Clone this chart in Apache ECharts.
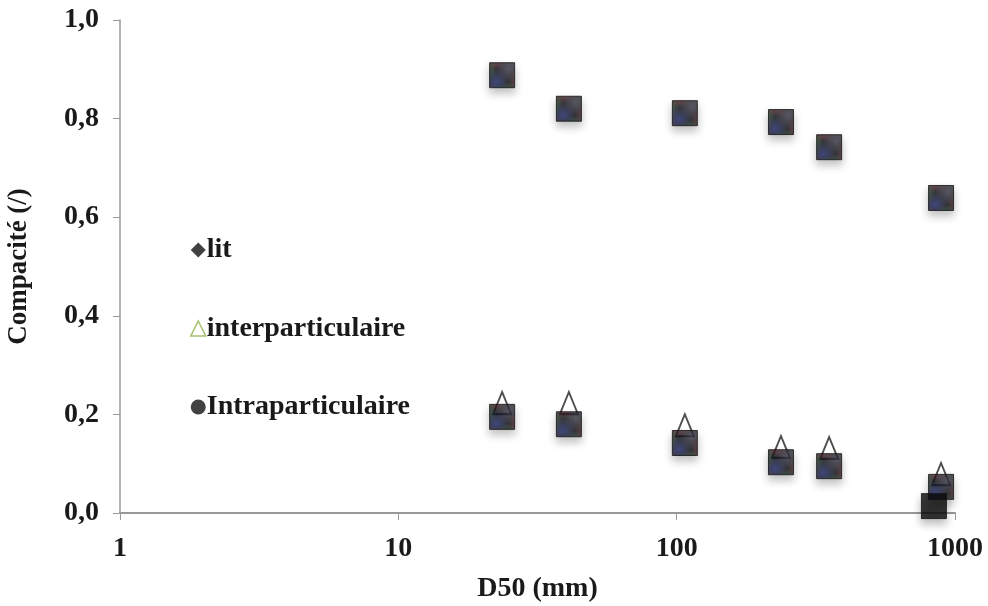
<!DOCTYPE html>
<html>
<head>
<meta charset="utf-8">
<script src="https://cdn.jsdelivr.net/npm/echarts@6/dist/echarts.min.js"></script>
<style>
  html, body { margin: 0; padding: 0; background: #fff; }
  #chart { width: 988px; height: 606px; }
</style>
</head>
<body>
<div id="chart"></div>
<script>
// D50 (mm) and compacity
var d50 = [23.6, 41, 107, 237, 353, 891];
var litValues = [0.888, 0.82, 0.811, 0.793, 0.742, 0.639];
var interValues = [0.223, 0.223, 0.178, 0.134, 0.132, 0.079];
var intraValues = [0.195, 0.18, 0.142, 0.103, 0.095, 0.053];
// odd extra square sitting on the axis near 1000
var extraD50 = [840];
var extraIntra = [0.014];
var xTicks = ['1', '10', '100', '1000'];

var fontFam = '"Liberation Serif", "DejaVu Serif", serif';

// little dithered tile to mimic the noisy square fill
function ditherTile() {
  var c = document.createElement('canvas');
  c.width = 4; c.height = 4;
  var g = c.getContext('2d');
  var cols = ['#101014', '#1f2a6a', '#141418', '#7a2230', '#18181c', '#2a5a30', '#0e0e12', '#3a3a48'];
  for (var i = 0; i < 4; i++) {
    for (var j = 0; j < 4; j++) {
      g.fillStyle = cols[(i * 3 + j * 5) % cols.length];
      g.fillRect(i, j, 1, 1);
    }
  }
  return c;
}
var tile = ditherTile();

function pairs(xs, ys) {
  return xs.map(function (x, i) { return [x, ys[i]]; });
}

var squareStyle = {
  color: { image: tile, repeat: 'repeat' },
  borderColor: '#111',
  borderWidth: 1,
  shadowBlur: 8,
  shadowOffsetY: 5,
  shadowColor: 'rgba(0,0,0,0.3)'
};

var chart = echarts.init(document.getElementById('chart'));
chart.setOption({
  backgroundColor: '#fff',
  animation: false,
  grid: { left: 120, right: 33, top: 20, bottom: 93, outerBoundsMode: 'none', containLabel: false },
  legend: {
    orient: 'vertical',
    left: 185,
    top: 231,
    itemWidth: 15,
    itemHeight: 15,
    itemGap: 50.5,
    textStyle: { fontFamily: fontFam, fontWeight: 'bold', fontSize: 28, color: '#1a1a1a', padding: [0, 0, 0, -4] },
    data: [
      { name: 'lit', icon: 'diamond', itemStyle: { color: '#111', borderWidth: 0, shadowBlur: 0 } },
      { name: 'interparticulaire', icon: 'triangle', itemStyle: { color: '#fff', borderColor: '#8db24a', borderWidth: 1.5, shadowBlur: 0 } },
      { name: 'Intraparticulaire', icon: 'circle', itemStyle: { color: '#111', borderWidth: 0, shadowBlur: 0 } }
    ]
  },
  xAxis: {
    type: 'log',
    logBase: 10,
    min: 1,
    max: 1000,
    name: 'D50 (mm)',
    nameLocation: 'middle',
    nameGap: 62,
    nameTextStyle: { fontFamily: fontFam, fontWeight: 'bold', fontSize: 28, color: '#1a1a1a' },
    axisLine: { lineStyle: { color: '#999', width: 2 } },
    axisTick: { show: true, length: 7, lineStyle: { color: '#999', width: 1 } },
    minorTick: { show: false },
    splitLine: { show: false },
    axisLabel: {
      margin: 22,
      fontFamily: fontFam, fontWeight: 'bold', fontSize: 28, color: '#1a1a1a',
      formatter: function (v) {
        var s = String(Math.round(v));
        return xTicks.indexOf(s) >= 0 ? s : '';
      }
    }
  },
  yAxis: {
    type: 'value',
    min: 0,
    max: 1,
    interval: 0.2,
    name: 'Compacité (/)',
    nameLocation: 'middle',
    nameGap: 87,
    nameTextStyle: { fontFamily: fontFam, fontWeight: 'bold', fontSize: 27, color: '#1a1a1a' },
    axisLine: { show: true, lineStyle: { color: '#999', width: 1.5 } },
    axisTick: { show: true, length: 7, lineStyle: { color: '#999' } },
    splitLine: { show: false },
    axisLabel: {
      margin: 21,
      fontFamily: fontFam, fontWeight: 'bold', fontSize: 28, color: '#1a1a1a',
      formatter: function (v) { return v.toFixed(1).replace('.', ','); }
    }
  },
  series: [
    {
      name: 'interparticulaire',
      type: 'scatter',
      symbol: 'triangle',
      symbolSize: [18, 22],
      z: 2,
      itemStyle: { color: '#fff', borderColor: '#222', borderWidth: 2 },
      data: pairs(d50, interValues)
    },
    {
      name: 'lit',
      type: 'scatter',
      symbol: 'rect',
      symbolSize: 25,
      z: 3,
      itemStyle: squareStyle,
      data: pairs(d50, litValues)
    },
    {
      name: 'Intraparticulaire',
      type: 'scatter',
      symbol: 'rect',
      symbolSize: 25,
      z: 3,
      itemStyle: squareStyle,
      data: pairs(d50, intraValues).concat(pairs(extraD50, extraIntra).map(function (p) {
        return { value: p, itemStyle: { color: '#0a0a0a' } };
      }))
    }
  ]
});
</script>
</body>
</html>
